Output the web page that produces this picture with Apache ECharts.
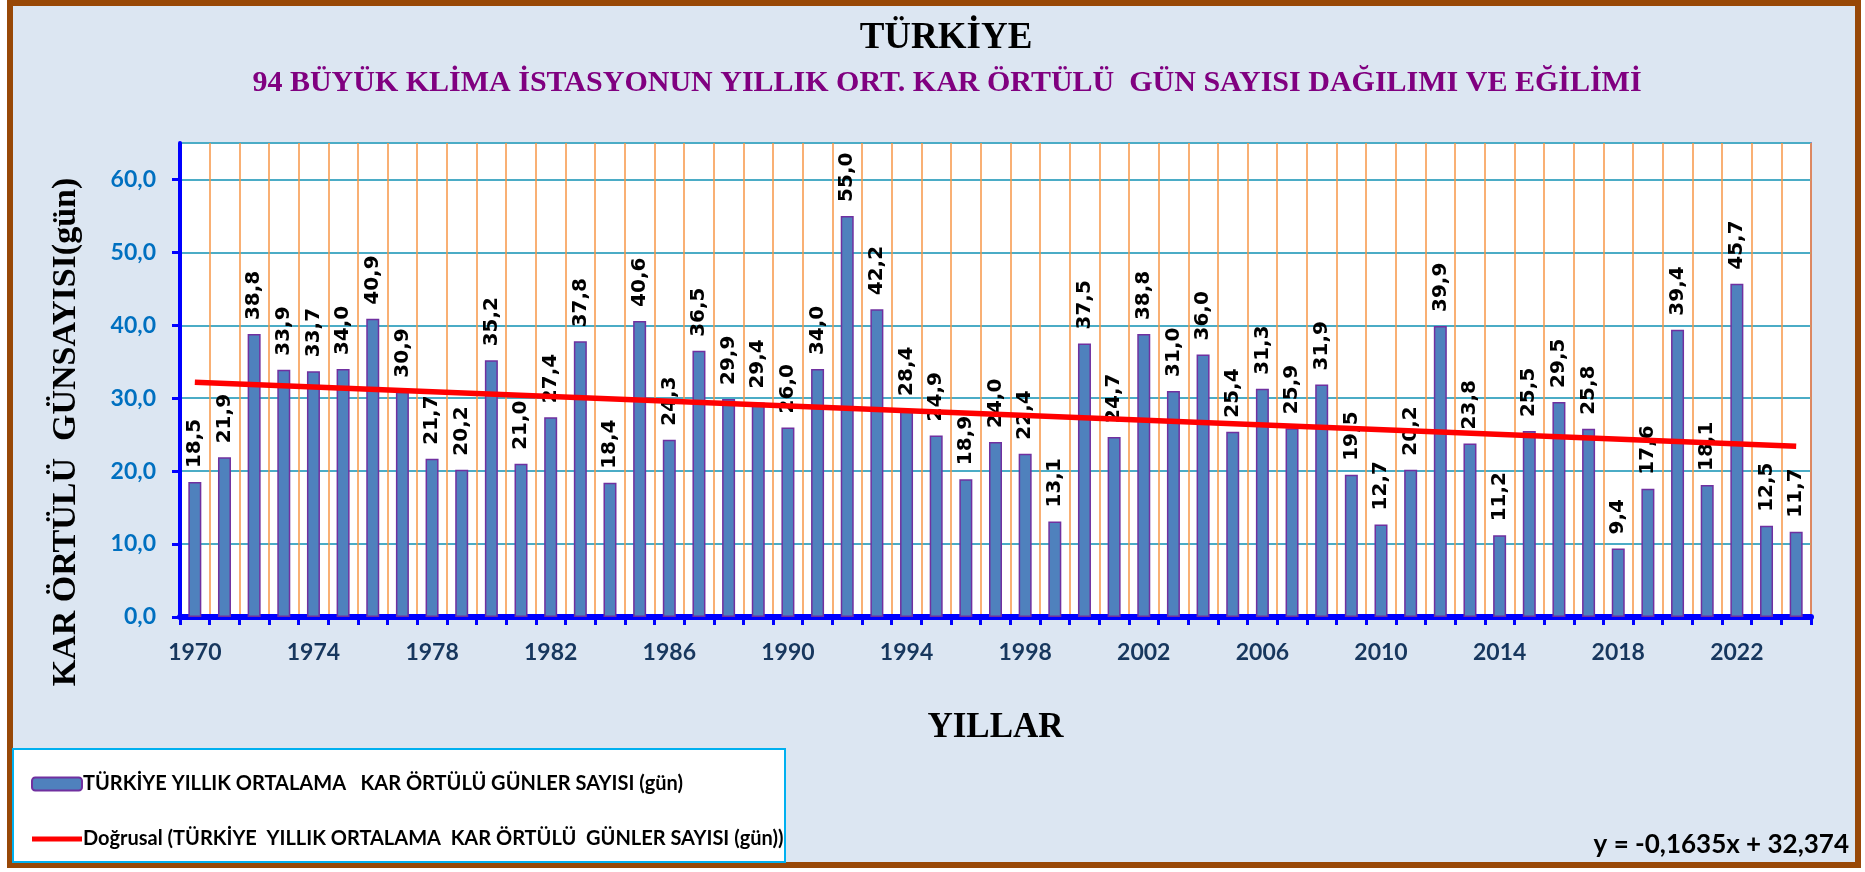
<!DOCTYPE html>
<html>
<head>
<meta charset="utf-8">
<script src="https://cdn.jsdelivr.net/npm/echarts@6/dist/echarts.min.js"></script>
<style>
html, body { margin: 0; background: #fff; }
#chart { width: 1865px; height: 872px; }
</style>
</head>
<body>
<div id="chart"></div>
<script>
// yillar
var years = ['1970','1971','1972','1973','1974','1975','1976','1977','1978','1979',
             '1980','1981','1982','1983','1984','1985','1986','1987','1988','1989',
             '1990','1991','1992','1993','1994','1995','1996','1997','1998','1999',
             '2000','2001','2002','2003','2004','2005','2006','2007','2008','2009',
             '2010','2011','2012','2013','2014','2015','2016','2017','2018','2019',
             '2020','2021','2022','2023','2024'];

// yillik ortalama kar ortulu gun sayisi
var snowDays = [18.5, 21.9, 38.8, 33.9, 33.7, 34.0, 40.9, 30.9, 21.7, 20.2,
                35.2, 21.0, 27.4, 37.8, 18.4, 40.6, 24.3, 36.5, 29.9, 29.4,
                26.0, 34.0, 55.0, 42.2, 28.4, 24.9, 18.9, 24.0, 22.4, 13.1,
                37.5, 24.7, 38.8, 31.0, 36.0, 25.4, 31.3, 25.9, 31.9, 19.5,
                12.7, 20.2, 39.9, 23.8, 11.2, 25.5, 29.5, 25.8, 9.4, 17.6,
                39.4, 18.1, 45.7, 12.5, 11.7];

// dogrusal egilim cizgisinin uc degerleri (1970 ve 2024)
var trendEnds = [32.2, 23.4];
var trendText = 'y = -0,1635x + 32,374';

var barName = 'TÜRKİYE YILLIK ORTALAMA   KAR ÖRTÜLÜ GÜNLER SAYISI (gün)';
var lineName = 'Doğrusal (TÜRKİYE  YILLIK ORTALAMA  KAR ÖRTÜLÜ  GÜNLER SAYISI (gün))';

function virgul(v) {
    return Number(v).toFixed(1).replace('.', ',');
}

var myChart = echarts.init(document.getElementById('chart'));

var option = {
    animation: false,

    // cerceve, basliklar, denklem
    graphic: [{
        type: 'rect',
        z: -10,
        shape: { x: 10, y: 3, width: 1848, height: 862 },
        style: { fill: '#DCE6F2', stroke: '#984807', lineWidth: 6 }
    }, {
        type: 'rect',
        z: -5,
        shape: { x: 13, y: 749, width: 772, height: 113 },
        style: { fill: '#ffffff', stroke: '#00B0F0', lineWidth: 2 }
    }, {
        type: 'text',
        x: 946, y: 38,
        style: {
            text: 'TÜRKİYE', align: 'center', verticalAlign: 'middle',
            font: 'bold 37px "Liberation Serif"', fill: '#000'
        }
    }, {
        type: 'text',
        x: 947, y: 83,
        style: {
            text: '94 BÜYÜK KLİMA İSTASYONUN YILLIK ORT. KAR ÖRTÜLÜ  GÜN SAYISI DAĞILIMI VE EĞİLİMİ',
            align: 'center', verticalAlign: 'middle',
            font: 'bold 30px "Liberation Serif"', fill: '#800080'
        }
    }, {
        type: 'text',
        x: 66, y: 432,
        rotation: Math.PI / 2,
        style: {
            text: 'KAR ÖRTÜLÜ  GÜNSAYISI(gün)', align: 'center', verticalAlign: 'middle',
            font: 'bold 34px "Liberation Serif"', fill: '#000'
        }
    }, {
        type: 'text',
        x: 1849, y: 845,
        style: {
            text: trendText, align: 'right', verticalAlign: 'middle',
            font: 'bold 26px Lato', fill: '#000'
        }
    }],

    legend: {
        left: 26,
        top: 769,
        orient: 'vertical',
        itemGap: 35,
        itemWidth: 50,
        itemHeight: 13,
        selectedMode: false,
        textStyle: { fontFamily: 'Lato', fontWeight: 'bold', fontSize: 20, color: '#000', padding: [0, 0, 0, -4] },
        data: [
            { name: barName },
            { name: lineName, icon: 'path://M0,0 L0.1,0 L0.1,0.1 Z M0,4 L50,4 L50,9 L0,9 Z M49.9,13 L50,13 L50,12.9 Z' }
        ]
    },

    grid: {
        left: 180,
        right: 54,
        top: 143,
        bottom: 255,
        show: true,
        backgroundColor: '#ffffff',
        borderColor: '#7030A0',
        borderWidth: 1.5
    },

    xAxis: {
        type: 'category',
        data: years,
        boundaryGap: true,
        name: 'YILLAR',
        nameLocation: 'middle',
        nameGap: 93,
        nameTextStyle: { fontFamily: 'Liberation Serif', fontWeight: 'bold', fontSize: 35, color: '#000' },
        axisLine: { lineStyle: { color: '#0000FF', width: 6 } },
        axisTick: { show: true, interval: 0, length: 8, lineStyle: { color: '#0000FF', width: 3 } },
        axisLabel: {
            interval: 3,
            margin: 24,
            fontFamily: 'Lato', fontWeight: 'bold', fontSize: 23, color: '#17375E'
        },
        splitLine: { show: true, interval: 0, lineStyle: { color: '#F79646', width: 1.5 } }
    },

    yAxis: {
        type: 'value',
        min: 0,
        max: 65,
        interval: 10,
        axisLine: { show: true, onZero: false, lineStyle: { color: '#0000FF', width: 4 } },
        axisTick: { show: true, length: 8, lineStyle: { color: '#0000FF', width: 3 } },
        axisLabel: {
            margin: 24,
            showMaxLabel: false,
            fontFamily: 'Lato', fontWeight: 'bold', fontSize: 23, color: '#0070C0',
            formatter: function (v) { return v > 60 ? '' : virgul(v); }
        },
        splitLine: { show: true, lineStyle: { color: '#4BACC6', width: 2 } }
    },

    series: [{
        name: barName,
        type: 'bar',
        barWidth: 13,
        itemStyle: { color: '#4F81BD', borderColor: '#7030A0', borderWidth: 1.5 },
        label: {
            show: true,
            position: 'top',
            distance: 14,
            rotate: 90,
            align: 'left',
            verticalAlign: 'middle',
            fontFamily: 'DejaVu Sans', fontWeight: 'bold', fontSize: 20, color: '#000',
            formatter: function (p) { return virgul(p.value); }
        },
        data: snowDays
    }, {
        name: lineName,
        type: 'line',
        z: 5,
        symbol: 'none',
        lineStyle: { color: '#FF0000', width: 5.5 },
        itemStyle: { color: '#FF0000' },
        data: [[years[0], trendEnds[0]], [years[years.length - 1], trendEnds[1]]]
    }]
};

myChart.setOption(option);
</script>
</body>
</html>
